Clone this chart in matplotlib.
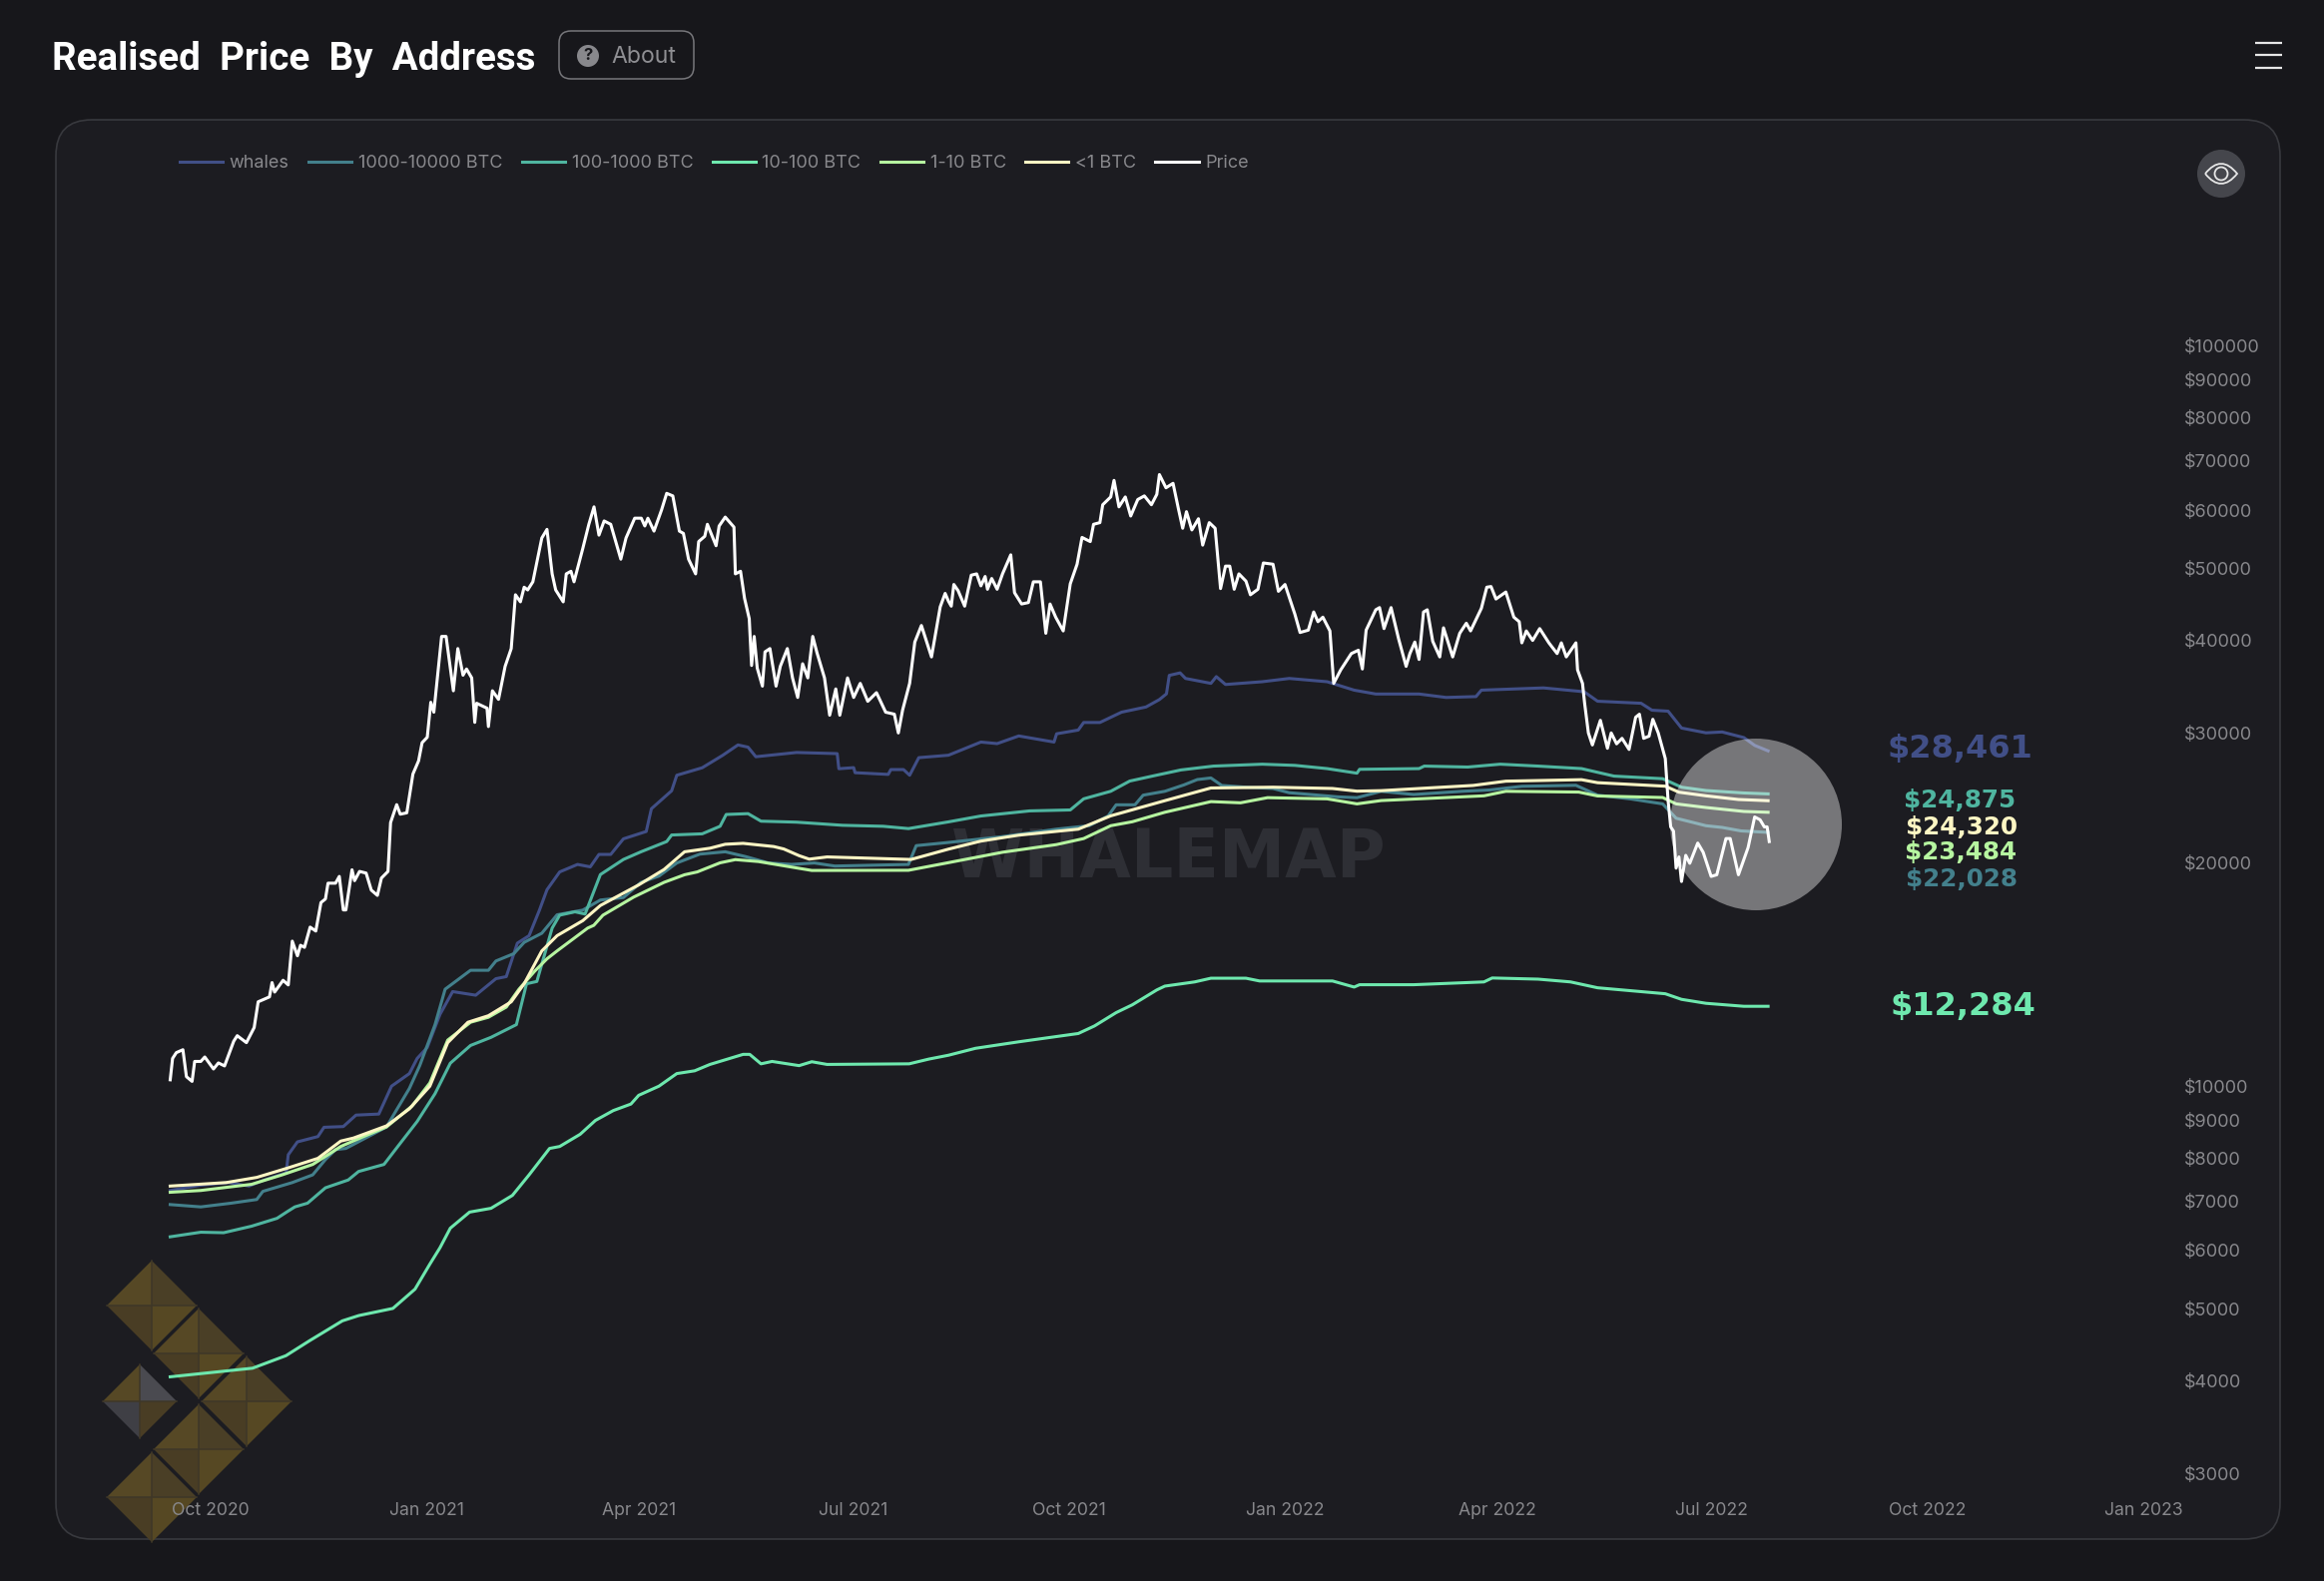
from __future__ import annotations

from datetime import date

import matplotlib
matplotlib.use("Agg")
import matplotlib.dates as mdates
import matplotlib.pyplot as plt
from matplotlib.patches import Circle, FancyBboxPatch, PathPatch, Polygon
from matplotlib.path import Path
from matplotlib.ticker import NullLocator

WIDTH, HEIGHT = 2328, 1584

# day numbers count from 1 Oct 2020
DAY_ZERO = date(2020, 10, 1)

PRICE_DAY = [
    -17.2, -16.2, -14.6, -11.8, -10.3, -7.9, -6.8, -4.2, -2.5, 1.2, 3.3, 5.9, 9.8, 11.3, 15.2, 18.5, 20.2, 25, 26.1, 27.2,
    30.8, 33, 34.7, 36.9, 38.2, 39.9, 42.3, 44.7, 46.9, 48.8, 49.9, 53.1, 54.7, 56.4, 57.5, 60.1, 61.2, 63.3, 66.1, 68.3,
    70.9, 72.6, 75.4, 76.5, 79.1, 80.6, 83.4, 86, 88.4, 89.9, 92.1, 93.6, 94.9, 98.2, 100.1, 103.2, 105.1, 107.3, 108.8, 111,
    112.3, 113.1, 117.5, 118.1, 119.8, 122.4, 125.2, 127.8, 129.6, 131.7, 133.3, 134.8, 137, 140.8, 143, 145.2, 146.7, 149.9, 151.2, 153.2,
    154.5, 158.2, 160.8, 163, 165.1, 167.3, 170.1, 174.4, 176.6, 180.3, 183.1, 184.6, 185.9, 188.5, 191.7, 193.9, 196.5, 199.3, 201, 203.2,
    206.2, 207.5, 210.1, 211.2, 214.9, 216.2, 218.8, 222.5, 223.1, 225.3, 227, 229, 230, 231.1, 232.4, 234.6, 235.7, 237.8, 240.4, 242.2,
    245.2, 247.4, 249.6, 251.7, 253.9, 256, 257.8, 261, 263.2, 265.8, 267.5, 270.8, 273.4, 276.2, 279.4, 283.1, 287, 290.7, 292.4, 294.2,
    297.2, 299.4, 302.2, 306.5, 310.2, 312.3, 313.7, 314.9, 316, 317.8, 320.6, 323.4, 325.7, 327.5, 329.3, 330.3, 332.1, 334.4, 336.7, 340.2,
    341.8, 344.8, 347.7, 349.8, 352.8, 355.1, 356.9, 359.3, 362.5, 365.5, 368.4, 370.5, 374, 375.4, 378.1, 379.3, 382.7, 384.1, 386.2, 388.9,
    391.2, 394.2, 397, 400, 402.3, 403.4, 406.2, 409.2, 411.5, 413.3, 414.9, 417.2, 420, 421.8, 424.6, 427.1, 429.4, 431.5, 433.3, 435.2,
    437.2, 440.2, 442.1, 445.3, 447.6, 451.7, 454, 456.8, 461, 463.2, 466.7, 469, 470.8, 472.9, 475.9, 477.5, 480.5, 485, 488, 489.7,
    491.3, 495.4, 497, 498.9, 501.9, 505.1, 508.3, 509.9, 512, 513.8, 515.7, 517.3, 519.6, 522.6, 524.2, 528.1, 531.1, 533.9, 535.7, 540.3,
    542.6, 544.4, 546.5, 550.7, 554.1, 556.4, 557.5, 559.4, 562.1, 565.1, 569, 572.5, 574.3, 576.4, 580.5, 581.2, 583.3, 584.2, 585.8, 587.5,
    590.9, 593.9, 595.5, 597.8, 600.1, 603.1, 605.9, 607.5, 609.3, 611.6, 613.2, 615.5, 618.5, 619.7, 620.8, 622, 623.1, 624.3, 625.4, 627.2,
    628.9, 632.3, 634.6, 638, 640.4, 644.3, 646.1, 649.6, 653.7, 656.5, 658.8, 660.6, 661.8, 662.7,
]
PRICE_USD = [
    10200, 10900, 11100, 11200, 10300, 10150, 10800, 10800, 10950, 10550, 10750, 10650, 11500, 11700, 11450, 12000, 13000, 13200, 13800, 13400,
    13900, 13700, 15700, 15000, 15500, 15400, 16400, 16200, 17700, 17900, 18800, 18800, 19200, 17300, 17300, 19600, 18950, 19500, 19400, 18400,
    18100, 19100, 19500, 22700, 24000, 23300, 23400, 26400, 27500, 29100, 29600, 33000, 32000, 40500, 40500, 34200, 39000, 35900, 36600, 35600,
    31000, 32900, 32400, 30600, 34200, 33300, 36900, 39000, 46100, 45100, 47200, 46800, 48000, 55000, 56500, 49200, 46800, 45100, 49200, 49600,
    48000, 53200, 57400, 60600, 55500, 58000, 57400, 51500, 55000, 58500, 58500, 57100, 58500, 56200, 60000, 63200, 62700, 56200, 55800, 51500,
    49200, 54400, 55300, 57400, 53700, 57100, 58700, 56900, 49200, 49600, 45600, 42800, 37000, 40500, 36700, 34700, 38600, 39000, 34700, 36900,
    39000, 35600, 33500, 37200, 35600, 40500, 38500, 35600, 31700, 34400, 31700, 35600, 33500, 35000, 33100, 34000, 32000, 31800, 30000, 32200,
    35000, 39800, 41900, 38000, 44400, 46300, 45200, 44500, 47600, 46700, 44500, 49000, 49200, 47400, 48800, 46900, 48500, 46900, 49200, 52200,
    46400, 44800, 45000, 48000, 48000, 40900, 44800, 43000, 41200, 47700, 50700, 55100, 54400, 57400, 57700, 61000, 62500, 65800, 60600, 62500,
    58900, 62000, 62700, 61000, 63000, 67000, 64300, 65200, 60200, 56700, 59700, 56400, 58400, 53800, 57700, 56700, 47000, 50400, 50400, 46900,
    49200, 48100, 46100, 46900, 50900, 50700, 46600, 47600, 43400, 41000, 41300, 43700, 42400, 43000, 41200, 35000, 36500, 38400, 38800, 36600,
    41300, 44000, 44300, 41500, 44300, 40200, 36900, 38400, 39800, 37700, 43700, 44000, 39900, 38000, 41600, 38000, 40900, 42200, 41200, 44200,
    47200, 47300, 45500, 46500, 43000, 42400, 39700, 41200, 40000, 41500, 39700, 38400, 39700, 38000, 39700, 36500, 35000, 32900, 30000, 28900,
    31200, 28600, 30000, 29000, 29500, 28500, 31500, 31800, 29500, 29700, 31300, 30000, 27700, 24300, 22400, 22100, 19700, 20400, 18900, 20500,
    20000, 21300, 20700, 19200, 19300, 21600, 21600, 19300, 21000, 23100, 22900, 22400, 22400, 21400,
]

WHALES_DAY = [
    -17.2, -4.2, 7.7, 16.3, 22.8, 32.1, 33, 36.9, 45.6, 48.2, 56.4, 61.8, 71.5, 76.9, 84.5, 87.8, 92.1, 97.5, 102.9, 112.7,
    121.3, 125.7, 130.4, 135.4, 139.8, 143, 148.4, 156, 161.4, 165.1, 170.1, 175.5, 185.2, 187.4, 196, 198.2, 209, 217.7, 224.2, 228.5,
    231.8, 249.1, 266.4, 267.1, 273.4, 274, 288.1, 289.2, 294.6, 297.2, 301.1, 313.7, 327.5, 334.4, 343.6, 358.6, 359.7, 368.9, 371.2, 378.1,
    387.3, 397.7, 403.4, 406.4, 407.6, 412.2, 414.5, 425.3, 427.6, 431.5, 447.1, 458.6, 474.7, 486.2, 495.4, 513.8, 525.3, 538, 540.3, 566.7,
    584, 589.7, 608.2, 612.8, 619.7, 625.4, 635.8, 642.7, 651.9, 656.5, 662.2,
]
WHALES_USD = [
    7230, 7350, 7410, 7330, 7470, 7640, 8080, 8410, 8550, 8800, 8820, 9140, 9170, 10000, 10400, 10900, 11280, 12500, 13420, 13270,
    13970, 14060, 15600, 15970, 17290, 18420, 19470, 19930, 19780, 20560, 20560, 21580, 22080, 23700, 25060, 26300, 26920, 27980, 28900, 28700,
    27860, 28230, 28130, 26840, 26930, 26510, 26370, 26770, 26770, 26300, 27780, 27990, 29160, 29020, 29720, 29160, 29920, 30270, 30990, 30990,
    32000, 32520, 33280, 33880, 35880, 36160, 35540, 35000, 35740, 34880, 35180, 35540, 35180, 34270, 33860, 33860, 33500, 33590, 34270, 34510,
    34100, 33110, 32900, 32200, 32100, 30460, 30010, 30090, 29570, 28860, 28370,
]

K1_10K_DAY = [
    -17.2, -4.2, 8.7, 19.6, 22.2, 34.7, 43.4, 48.8, 53.1, 57.5, 74.8, 78, 84.5, 88.9, 95.4, 99.7, 110.5, 118.1, 121.3, 128.9,
    133.3, 140.8, 147.3, 158.2, 165.7, 175.5, 183, 190.6, 198.2, 208, 218.8, 227.5, 237.2, 247, 256.7, 265.4, 296.7, 300, 313.7, 336.7,
    359.7, 373.5, 381.6, 385, 393, 396.5, 405.7, 413.8, 419.5, 425.3, 429.9, 440.2, 451.7, 458.6, 479.3, 487.4, 497.7, 511.5, 532.2, 543.7,
    557.5, 580.5, 589.7, 603.5, 617.4, 623.1, 635.8, 642.7, 650.7, 662.2,
]
K1_10K_USD = [
    6920, 6870, 6950, 7030, 7210, 7410, 7590, 7960, 8210, 8240, 8810, 9170, 9930, 10660, 12110, 13520, 14340, 14340, 14760, 15100,
    15640, 16090, 17040, 17290, 17840, 17980, 18850, 19220, 20020, 20580, 20730, 20420, 20020, 19930, 20020, 19830, 19930, 21130, 21340, 21730,
    22240, 22480, 23170, 23990, 23990, 24720, 25020, 25520, 25950, 26080, 25480, 25340, 25240, 24910, 24590, 24530, 25020, 24770, 25020, 25120,
    25410, 25490, 24720, 24440, 24060, 23010, 22480, 22360, 22120, 22020,
]

H100_1K_DAY = [
    -17.2, -4.2, 5.5, 17.4, 28.2, 32.6, 35.8, 41.2, 48.8, 58.5, 62.9, 73.7, 80.2, 87.8, 95.4, 101.9, 110.5, 119.2, 130, 134.3,
    138.7, 145.2, 148.4, 154.9, 159.2, 165.7, 175.5, 183, 193.9, 196, 209, 216.6, 219.2, 228.5, 234, 249.1, 268.6, 286, 296.7, 313.7,
    327.5, 348.2, 365.5, 371.2, 382.7, 390.8, 401.1, 412.6, 426.4, 447.1, 461, 474.7, 487.4, 488.5, 513.8, 516, 534.5, 548.3, 564.4, 582.9,
    596.7, 617.4, 625.4, 635.8, 651.9, 662.2,
]
H100_1K_USD = [
    6260, 6350, 6340, 6470, 6630, 6770, 6870, 6950, 7290, 7470, 7670, 7840, 8340, 8960, 9770, 10740, 11350, 11640, 12110, 13750,
    13850, 16350, 17020, 17200, 17080, 19310, 20240, 20730, 21400, 21840, 21920, 22440, 23280, 23340, 22800, 22730, 22510, 22440, 22280, 22750,
    23170, 23540, 23610, 24440, 25020, 25830, 26260, 26740, 27060, 27220, 27120, 26850, 26470, 26790, 26850, 27060, 26980, 27220, 27060, 26850,
    26230, 26020, 25340, 25080, 24890, 24820,
]

T10_100_DAY = [
    -17.2, 17.8, 32, 42, 56, 63, 77.5, 86.9, 93.2, 97.5, 101.9, 110.1, 119.2, 128.3, 135.4, 144.1, 148.4, 157.1, 163.6, 171.2,
    178.7, 182, 190.6, 198.2, 205.8, 212.3, 226.4, 229.2, 234, 238.7, 250.2, 255.6, 262.1, 297, 305.4, 313.7, 325.2, 343.6, 368.9, 375.8,
    385, 391.9, 402.3, 405.7, 418.4, 425.3, 440.2, 446, 477, 486.2, 488.5, 511.5, 541.4, 544.9, 564.4, 578.2, 589.7, 618.5, 625.4, 635.8,
    651.9, 662.2,
]
T10_100_USD = [
    4050, 4160, 4325, 4530, 4820, 4900, 5010, 5320, 5750, 6050, 6430, 6760, 6840, 7120, 7590, 8240, 8290, 8610, 8990, 9270,
    9460, 9720, 10000, 10400, 10490, 10700, 11040, 11040, 10720, 10800, 10660, 10790, 10700, 10720, 10880, 11010, 11250, 11480, 11780, 12060,
    12570, 12880, 13490, 13650, 13830, 13990, 13990, 13870, 13870, 13610, 13710, 13710, 13830, 14000, 13950, 13830, 13580, 13330, 13100, 12940,
    12820, 12820,
]

O1_10_DAY = [
    -17.2, -4.2, 17.4, 30.4, 43.4, 49.9, 55.3, 65, 74.8, 85.6, 93.2, 100.8, 110.5, 118.1, 125.7, 131.1, 137.6, 143, 147.3, 160.3,
    162.9, 166.8, 179.8, 192.8, 201.5, 206.9, 216.6, 223.1, 232.9, 255.6, 296.7, 313.7, 336.7, 359.7, 371.2, 382.7, 391.9, 405.7, 425.3, 437.9,
    449.4, 474.7, 487.4, 497.7, 541.4, 550.7, 581.7, 589.7, 617.4, 623.1, 635.8, 651.9, 662.2,
]
O1_10_USD = [
    7190, 7230, 7370, 7590, 7840, 8080, 8290, 8550, 8810, 9400, 10100, 11540, 12200, 12390, 12790, 13520, 14280, 14860, 15230, 16350,
    16490, 17020, 18000, 18850, 19300, 19470, 20030, 20230, 20110, 19560, 19570, 20040, 20700, 21200, 21600, 22480, 22760, 23440, 24230, 24140,
    24530, 24440, 24060, 24310, 24670, 25020, 24960, 24660, 24540, 24060, 23790, 23500, 23440,
]

U1_DAY = [
    -17.2, 6.6, 19.6, 32.6, 45.6, 55.3, 60.7, 74.8, 84.5, 93.2, 100.8, 109.4, 118.1, 127.8, 133.3, 140.8, 147.3, 158.2, 165.7, 182,
    192.8, 201.5, 212.3, 218.8, 226.4, 239.4, 243.7, 250.2, 254.5, 262.1, 297.8, 313.7, 327.5, 343.6, 368.9, 382.7, 405.7, 425.3, 451.7, 477,
    487.4, 497.7, 536.8, 550.7, 582.9, 589.7, 618.5, 624.3, 635.8, 649.6, 662.2,
]
U1_USD = [
    7330, 7410, 7530, 7750, 7990, 8430, 8510, 8840, 9320, 10000, 11450, 12200, 12450, 13000, 13750, 15230, 15970, 16730, 17540, 18700,
    19620, 20730, 20960, 21220, 21280, 21070, 20910, 20480, 20260, 20400, 20240, 20900, 21430, 21830, 22240, 23180, 24300, 25280, 25340, 25240,
    25030, 25070, 25480, 25820, 25940, 25700, 25420, 24950, 24670, 24390, 24300,
]

SERIES_NAMES = ["whales", "1000-10000 BTC", "100-1000 BTC", "10-100 BTC", "1-10 BTC", "<1 BTC", "Price"]
SERIES_COLORS = ["#414f87", "#43808c", "#4fb5a0", "#6ee8ae", "#b6f5a0", "#fdf6c4", "#ffffff"]

X_TICK_DATES = [
    date(2020, 10, 1), date(2021, 1, 1), date(2021, 4, 1), date(2021, 7, 1), date(2021, 10, 1),
    date(2022, 1, 1), date(2022, 4, 1), date(2022, 7, 1), date(2022, 10, 1), date(2023, 1, 1),
]
X_TICK_LABELS = [
    "Oct 2020", "Jan 2021", "Apr 2021", "Jul 2021", "Oct 2021",
    "Jan 2022", "Apr 2022", "Jul 2022", "Oct 2022", "Jan 2023",
]
Y_TICKS = [
    100000, 90000, 80000, 70000, 60000, 50000, 40000, 30000, 20000,
    10000, 9000, 8000, 7000, 6000, 5000, 4000, 3000,
]

VALUE_LABELS = ["$28,461", "$24,875", "$24,320", "$23,484", "$22,028", "$12,284"]
VALUE_COLORS = ["#414f87", "#4fb5a0", "#fdf6c4", "#b6f5a0", "#43808c", "#6ee8ae"]

BG = "#17171b"
PANEL = "#1c1c21"
GREY_TEXT = "#88888c"
UI_FONT = "Inter"


def to_num(days):
    zero = mdates.date2num(DAY_ZERO)
    return [zero + d for d in days]


def pixel_axes(fig, zorder):
    # overlay in image pixels, y going down
    layer = fig.add_axes([0, 0, 1, 1], zorder=zorder)
    layer.set_xlim(0, WIDTH)
    layer.set_ylim(HEIGHT, 0)
    layer.axis("off")
    layer.patch.set_alpha(0)
    return layer


def draw_diamond(layer, cx, cy, half, fills):
    top, right, bottom, left = (cx, cy - half), (cx + half, cy), (cx, cy + half), (cx - half, cy)
    centre = (cx, cy)
    quads = [(left, top), (top, right), (right, bottom), (bottom, left)]
    for (a, b), fill in zip(quads, fills):
        layer.add_patch(Polygon([centre, a, b], closed=True, facecolor=fill, edgecolor="none"))
    layer.plot([left[0], right[0]], [cy, cy], color="#3e3728", lw=1.1)
    layer.plot([cx, cx], [top[1], bottom[1]], color="#3e3728", lw=1.1)


def draw_background(layer):
    radius = 36
    layer.add_patch(FancyBboxPatch(
        (56 + radius, 120 + radius), 2228 - 2 * radius, 1422 - 2 * radius,
        boxstyle=f"round,pad={radius},rounding_size={radius}",
        facecolor=PANEL, edgecolor="#38393e", linewidth=1.2,
    ))
    layer.text(1170, 860, "WHALEMAP", color="#2e2f35", fontsize=48, fontweight="bold",
               family="DejaVu Sans", ha="center", va="center")

    gold = ["#564825", "#4a3f26", "#564823", "#493d24"]
    draw_diamond(layer, 152, 1308, 45, gold)
    draw_diamond(layer, 199, 1356, 45, gold)
    draw_diamond(layer, 247, 1404, 45, gold)
    draw_diamond(layer, 199, 1452, 45, gold)
    draw_diamond(layer, 152, 1500, 45, gold)
    draw_diamond(layer, 140, 1404, 37, ["#564825", "#4a4a50", "#493d24", "#3f3f45"])

    layer.text(52, 59, "Realised  Price  By  Address", color="#ffffff", fontsize=27.7,
               fontweight="bold", family="Roboto", ha="left", va="center")

    layer.add_patch(FancyBboxPatch(
        (572, 43), 111, 24, boxstyle="round,pad=12,rounding_size=12",
        facecolor="none", edgecolor="#77777b", linewidth=1.1,
    ))
    layer.add_patch(Circle((589, 56), 11, facecolor="#88888c", edgecolor="none"))
    layer.text(589, 56, "?", color=BG, fontsize=12, fontweight="bold", family=UI_FONT, ha="center", va="center")
    layer.text(612, 57, "About", color="#8f8f93", fontsize=16.6, family=UI_FONT, ha="left", va="center")

    for y in (43, 55, 68):
        layer.plot([2259, 2286], [y, y], color="#e6e6e6", lw=1.6, solid_capstyle="butt")

    layer.add_patch(Circle((2225, 174), 24, facecolor="#45464c", edgecolor="none"))
    lens = Path(
        [(2209, 174), (2225, 154), (2241, 174), (2225, 194), (2209, 174)],
        [Path.MOVETO, Path.CURVE3, Path.CURVE3, Path.CURVE3, Path.CURVE3],
    )
    layer.add_patch(PathPatch(lens, facecolor="none", edgecolor="#e6e6e6", linewidth=1.3))
    layer.add_patch(Circle((2225, 174), 6.5, facecolor="none", edgecolor="#e6e6e6", linewidth=1.3))


def draw_front(layer):
    layer.add_patch(Circle((1759, 826), 86, facecolor="#ffffff", edgecolor="none", alpha=0.4))

    # x centre, y centre, font size for each label
    spots = [
        (1963, 751, 23), (1963, 802, 17.7), (1965, 829, 17.7),
        (1964, 854, 17.7), (1965, 881, 17.7), (1966, 1009, 23),
    ]
    for text, color, (x, y, size) in zip(VALUE_LABELS, VALUE_COLORS, spots):
        layer.text(x, y, text, color=color, fontsize=size, fontweight="bold",
                   family="DejaVu Sans", ha="center", va="center")


def main() -> None:
    fig = plt.figure(figsize=(WIDTH / 100, HEIGHT / 100), dpi=100, facecolor=BG)

    draw_background(pixel_axes(fig, 0))

    # the axes fill the panel, ticks sit inside it
    ax = fig.add_axes([56 / WIDTH, 1 - 1542 / HEIGHT, 2228 / WIDTH, 1422 / HEIGHT], zorder=1)
    ax.patch.set_alpha(0)
    for spine in ax.spines.values():
        spine.set_visible(False)

    days = [WHALES_DAY, K1_10K_DAY, H100_1K_DAY, T10_100_DAY, O1_10_DAY, U1_DAY, PRICE_DAY]
    values = [WHALES_USD, K1_10K_USD, H100_1K_USD, T10_100_USD, O1_10_USD, U1_USD, PRICE_USD]
    for name, color, xs, ys in zip(SERIES_NAMES, SERIES_COLORS, days, values):
        ax.plot(to_num(xs), ys, color=color, lw=2.2, label=name, solid_joinstyle="round")

    ax.set_yscale("log")
    ax.set_xlim(*to_num([-65.8, 879.9]))
    ax.set_ylim(2445, 201970)

    ax.yaxis.tick_right()
    ax.set_yticks(Y_TICKS, [f"${v}" for v in Y_TICKS])
    ax.yaxis.set_minor_locator(NullLocator())
    ax.set_xticks(mdates.date2num(X_TICK_DATES), X_TICK_LABELS)
    ax.tick_params(axis="y", length=0, pad=-69, labelsize=13, labelcolor=GREY_TEXT)
    ax.tick_params(axis="x", length=0, pad=-27, labelsize=12.7, labelcolor=GREY_TEXT)
    for label in ax.get_xticklabels() + ax.get_yticklabels():
        label.set_family(UI_FONT)

    ax.legend(
        loc="upper left", bbox_to_anchor=(180 / WIDTH, 1 - 155 / HEIGHT), bbox_transform=fig.transFigure,
        ncols=7, frameon=False, borderpad=0, borderaxespad=0, handlelength=2.4, handletextpad=0.36,
        columnspacing=1.07, prop={"family": UI_FONT, "size": 13}, labelcolor=GREY_TEXT,
    )

    draw_front(pixel_axes(fig, 2))

    fig.savefig("out.png", dpi=100, facecolor=BG)
    plt.close(fig)


if __name__ == "__main__":
    main()
